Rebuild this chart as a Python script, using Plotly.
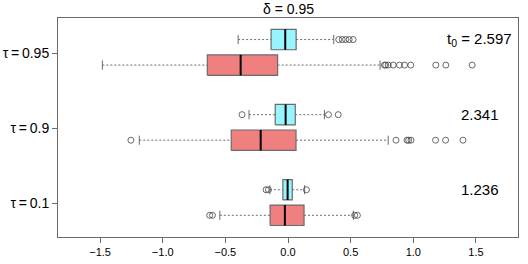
import plotly.graph_objects as go

# ---- data ----
tau_labels = ["τ\u2009=\u20090.1", "τ\u2009=\u20090.9", "τ\u2009=\u20090.95"]
t0_labels = ["1.236", "2.341", "t<sub>0</sub> = 2.597"]

# blue (upper) series, per tau group
blue_lw  = [-0.145, -0.311, -0.398]
blue_q1  = [-0.041, -0.102, -0.135]
blue_med = [-0.003, -0.019, -0.022]
blue_q3  = [0.034, 0.058, 0.065]
blue_uw  = [0.133, 0.291, 0.365]
blue_out = [[-0.175, -0.156, 0.147],
            [-0.367, 0.323, 0.401],
            [0.405, 0.433, 0.46, 0.488, 0.52]]

# red (lower) series, per tau group
red_lw  = [-0.544, -1.187, -1.482]
red_q1  = [-0.143, -0.453, -0.644]
red_med = [-0.025, -0.218, -0.378]
red_q3  = [0.128, 0.064, -0.083]
red_uw  = [0.522, 0.800, 0.735]
red_out = [[-0.625, -0.603, 0.532, 0.554],
           [-1.254, 0.862, 0.950, 0.963, 0.982, 1.178, 1.258, 1.397],
           [0.77, 0.78, 0.80, 0.84, 0.89, 0.93, 0.98, 1.18, 1.26, 1.47]]

BLUE = "#98F5FF"
RED = "#F08080"
EDGE = "#6b6b6b"

fig = go.Figure()

def add_box(yc, lw, q1, med, q3, uw, outs, fill, half):
    cap = half * 0.45
    fig.add_trace(go.Scatter(x=[q1, q3, q3, q1, q1], y=[yc - half, yc - half, yc + half, yc + half, yc - half],
                             mode="lines", fill="toself", fillcolor=fill,
                             line=dict(color=EDGE, width=1.2), hoverinfo="skip", showlegend=False))
    fig.add_trace(go.Scatter(x=[lw, q1, None, q3, uw], y=[yc, yc, None, yc, yc], mode="lines",
                             line=dict(color=EDGE, width=1, dash="2px,2px"), hoverinfo="skip", showlegend=False))
    fig.add_trace(go.Scatter(x=[lw, lw, None, uw, uw], y=[yc - cap, yc + cap, None, yc - cap, yc + cap],
                             mode="lines", line=dict(color=EDGE, width=1), hoverinfo="skip", showlegend=False))
    fig.add_trace(go.Scatter(x=[med, med], y=[yc - half, yc + half], mode="lines",
                             line=dict(color="black", width=2), hoverinfo="skip", showlegend=False))
    fig.add_trace(go.Scatter(x=outs, y=[yc] * len(outs), mode="markers",
                             marker=dict(symbol="circle-open", size=6, color="#444444", line=dict(width=0.8)),
                             hoverinfo="skip", showlegend=False))

for i in range(len(tau_labels)):
    g = i + 1
    add_box(g + 0.18, blue_lw[i], blue_q1[i], blue_med[i], blue_q3[i], blue_uw[i], blue_out[i], BLUE, 0.136)
    add_box(g - 0.16, red_lw[i], red_q1[i], red_med[i], red_q3[i], red_uw[i], red_out[i], RED, 0.136)
    fig.add_annotation(x=1.53, y=g + 0.18, text=t0_labels[i], showarrow=False,
                       font=dict(size=15, color="black"), xanchor="center", yanchor="middle")

fig.add_annotation(x=0.5, y=1.0, xref="paper", yref="paper", text="δ = 0.95", showarrow=False,
                   xanchor="center", yanchor="bottom", yshift=-1, font=dict(size=14, color="black"))

fig.update_layout(
    width=528, height=264,
    margin=dict(l=58, r=10, t=18, b=27, autoexpand=False),
    plot_bgcolor="white", paper_bgcolor="white",
    font=dict(family="Liberation Sans, Arial, sans-serif", color="black"),
    showlegend=False,
)
fig.update_xaxes(range=[-1.836, 1.836], tickvals=[-1.5, -1.0, -0.5, 0.0, 0.5, 1.0, 1.5],
                 ticktext=["−1.5", "−1.0", "−0.5", "0.0", "0.5", "1.0", "1.5"], automargin=False,
                 ticks="outside", ticklen=5, tickcolor=EDGE, tickfont=dict(size=11),
                 showline=True, linecolor=EDGE, linewidth=1, mirror=True, showgrid=False, zeroline=False)
fig.update_yaxes(range=[0.551, 3.467], tickvals=[1, 2, 3], ticktext=tau_labels, automargin=False,
                 ticks="outside", ticklen=5, tickcolor=EDGE, tickfont=dict(size=14),
                 showline=True, linecolor=EDGE, linewidth=1, mirror=True, showgrid=False, zeroline=False)

fig.write_html("out.html", config={"displayModeBar": False},
               post_script="document.body.style.margin='0';")
